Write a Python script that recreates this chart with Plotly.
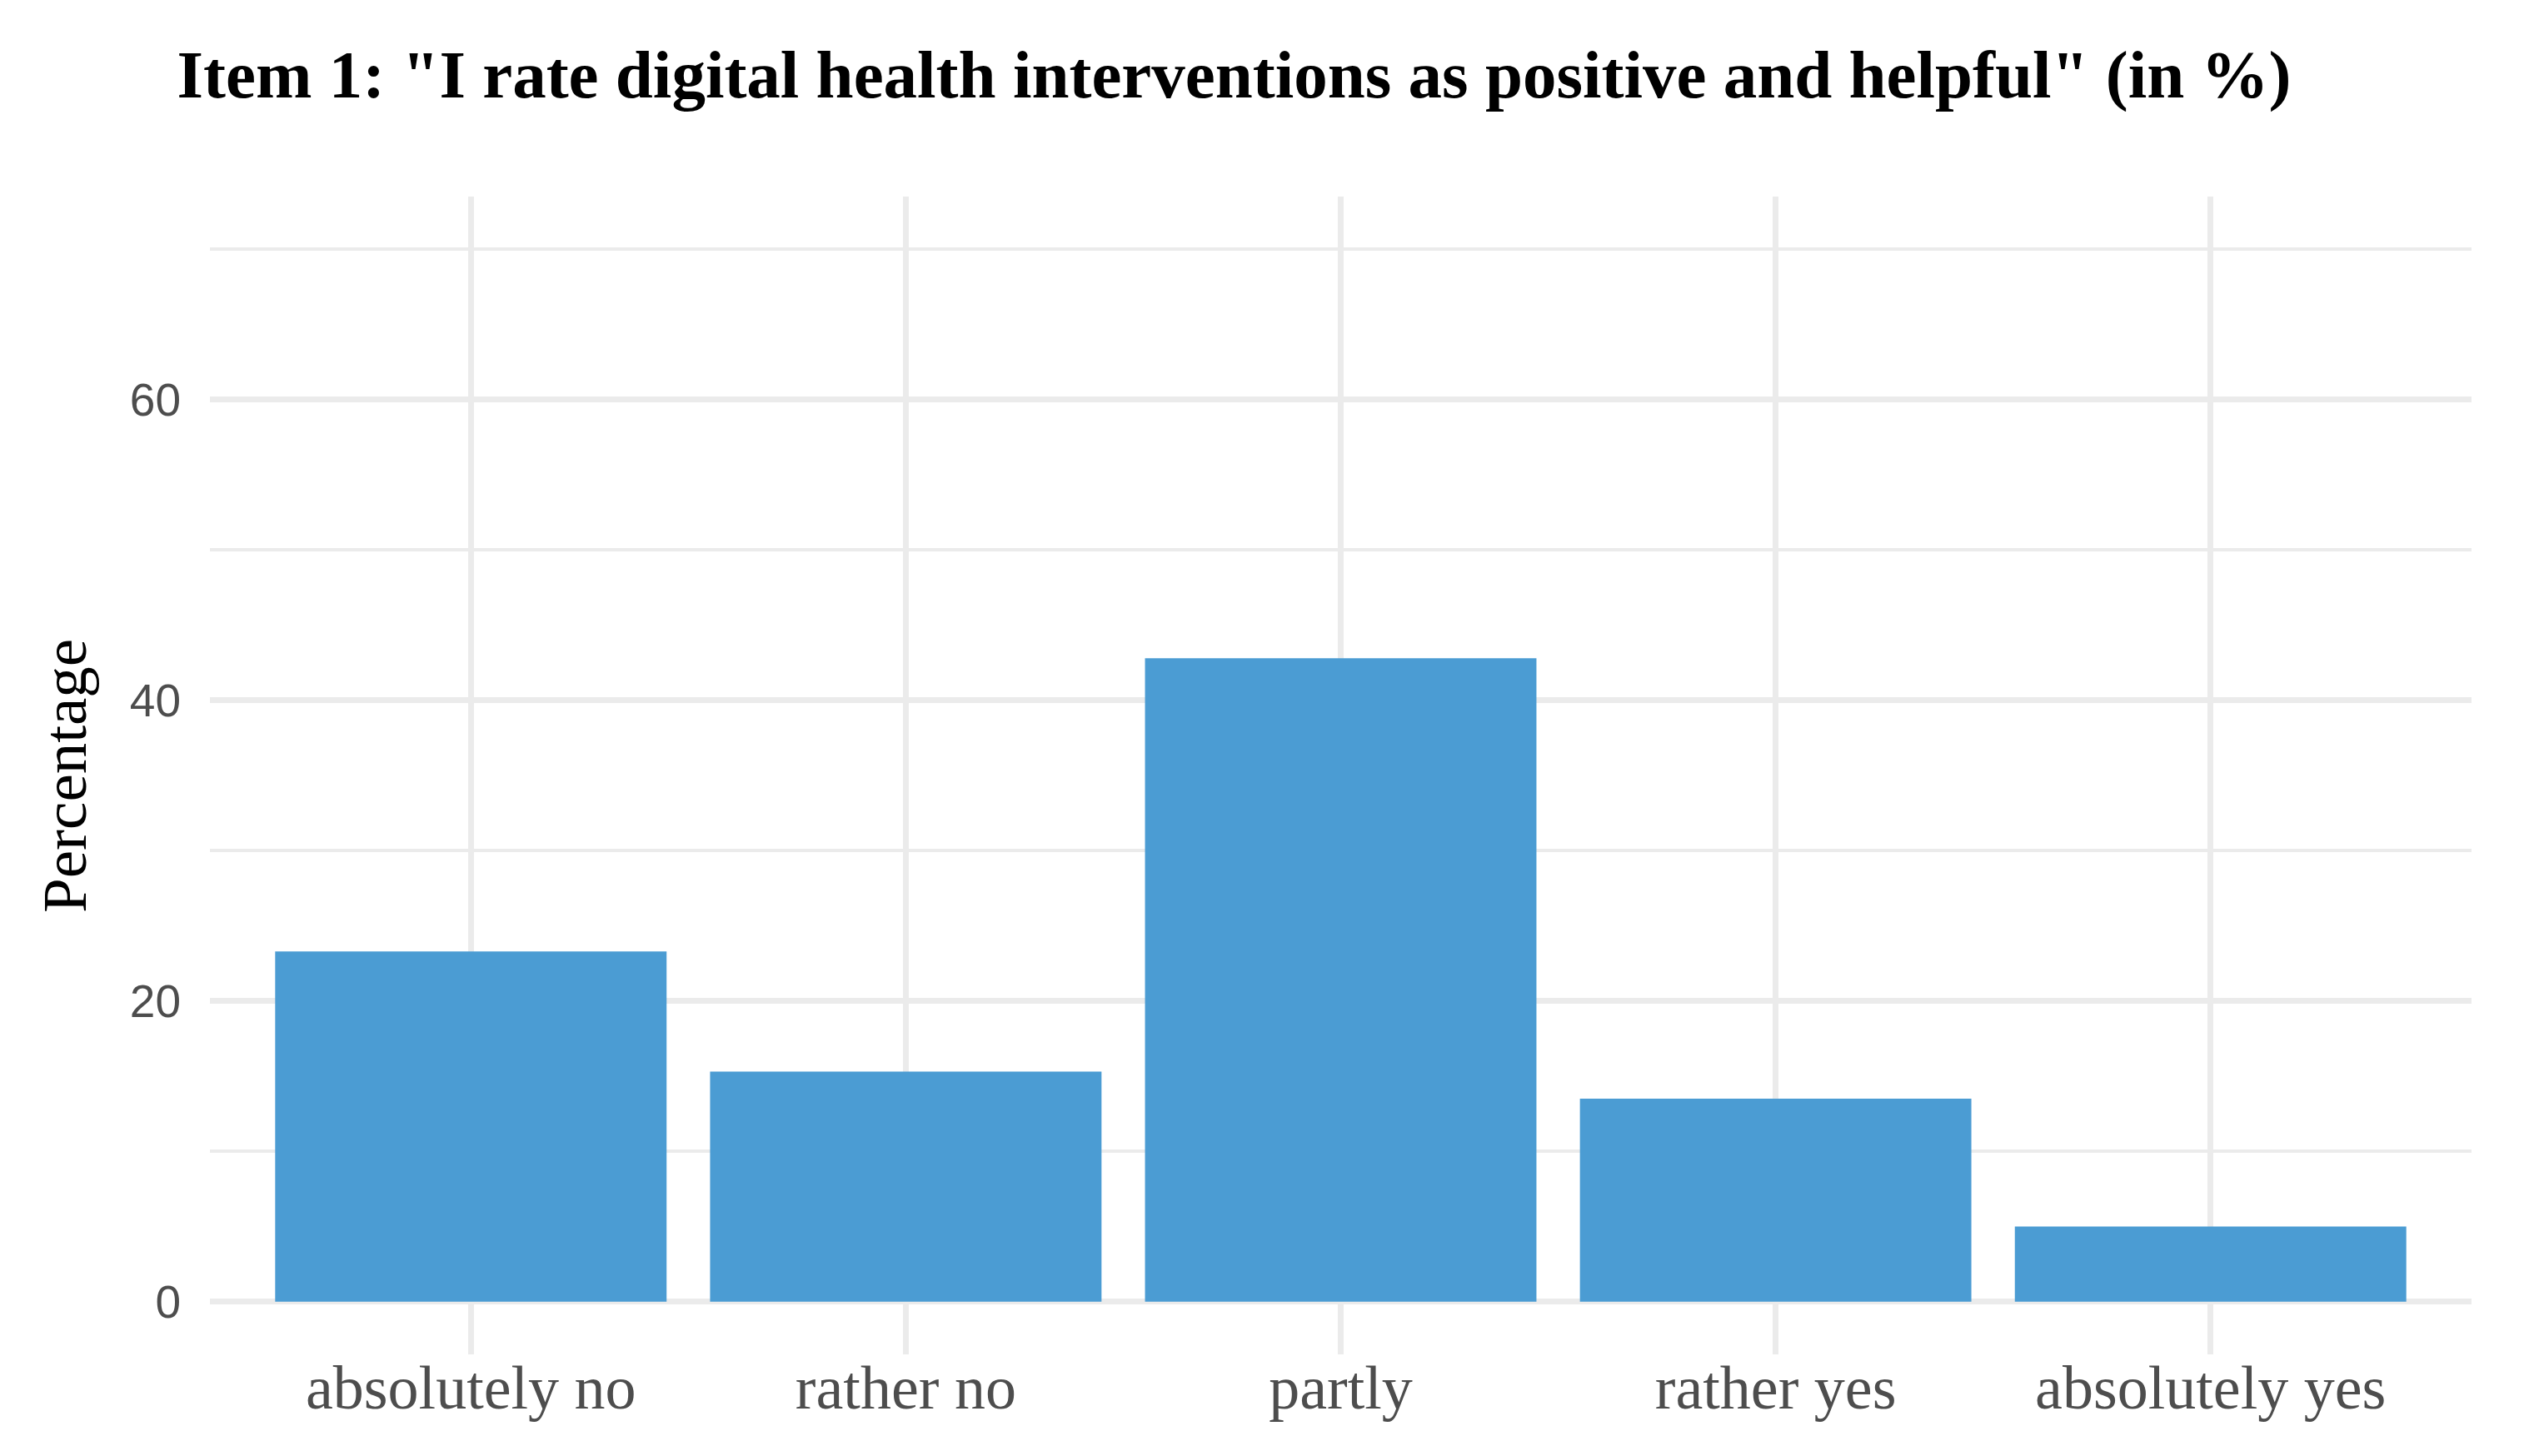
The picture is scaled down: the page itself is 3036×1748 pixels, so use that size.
import plotly.graph_objects as go

categories = ["absolutely no", "rather no", "partly", "rather yes", "absolutely yes"]
percentages = [23.3, 15.3, 42.8, 13.5, 5.0]
y_ticks = [0, 20, 40, 60]

title_text = 'Item 1: "I rate digital health interventions as positive and helpful" (in %)'

fig = go.Figure()
fig.add_trace(go.Bar(x=categories, y=percentages, width=0.9,
                     marker=dict(color="#4B9CD3", line=dict(width=0)),
                     showlegend=False))

fig.update_layout(
    width=3036, height=1748,
    margin=dict(l=252, r=69, t=236, b=122, autoexpand=False),
    paper_bgcolor="white", plot_bgcolor="white",
    title=dict(text="<b>" + title_text + "</b>", x=0.488, xref="container", xanchor="center",
               y=0.949, yref="container", yanchor="middle",
               font=dict(family="Liberation Serif", size=81, color="black")),
    bargap=0.1,
)

fig.update_xaxes(
    range=[-0.6, 4.6], showline=False, zeroline=False,
    showgrid=True, gridcolor="#EBEBEB", gridwidth=6.5,
    tickfont=dict(family="Liberation Serif", size=74, color="#4D4D4D"),
    ticks="", ticklabelstandoff=-10, automargin=False,
)

fig.update_yaxes(
    range=[-3.5, 73.5], tickvals=y_ticks, showline=False, zeroline=False,
    showgrid=True, gridcolor="#EBEBEB", gridwidth=6.5,
    minor=dict(tickvals=[10, 30, 50, 70], showgrid=True, gridcolor="#EBEBEB", gridwidth=3.5),
    tickfont=dict(family="Liberation Sans", size=55, color="#4D4D4D"),
    ticks="", ticklabelstandoff=34, automargin=False,
)

fig.add_annotation(text="Percentage", xref="paper", yref="paper", x=-0.0645, y=0.5,
                   xanchor="center", yanchor="middle", textangle=-90, showarrow=False,
                   font=dict(family="Liberation Serif", size=75, color="black"))

# drop the browser's default body margin so the figure sits at the page corner
fig.write_html("out.html", config={"displayModeBar": False},
               post_script="document.body.style.margin='0px';")
